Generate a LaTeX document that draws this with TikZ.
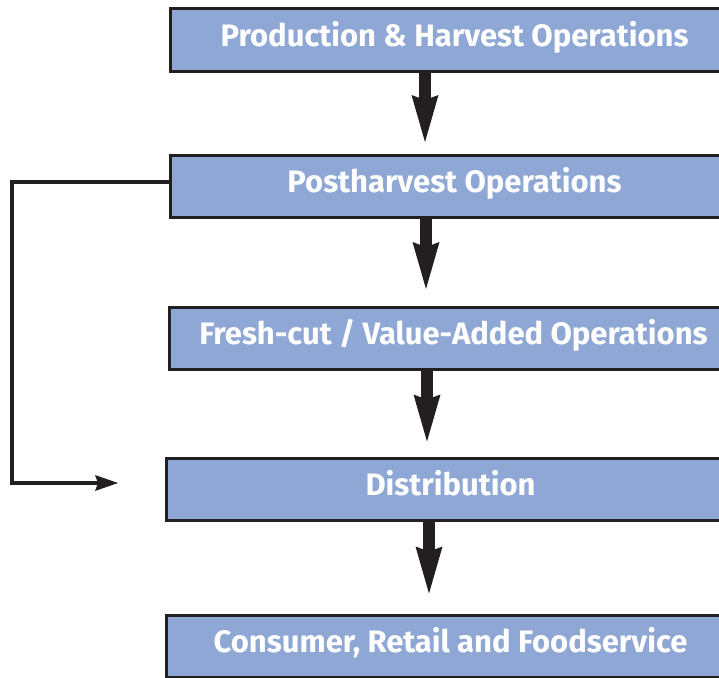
\documentclass[tikz,border=0pt]{standalone}
\usepackage{fontspec}
\setsansfont{Fira Sans}
\usetikzlibrary{arrows.meta}
\definecolor{boxblue}{RGB}{143,167,213}
\definecolor{inkblack}{RGB}{35,31,32}
\tikzset{
  stagebox/.style={draw=inkblack, line width=3pt, fill=boxblue, minimum width=569pt, minimum height=62pt,
    inner sep=0pt, font=\sffamily\bfseries\fontsize{31}{33}\selectfont, text=white,
    text height=21pt, text depth=9pt},
  flowarrow/.style={draw=inkblack, line width=11.5pt, -{Stealth[length=47pt,width=27pt,inset=5pt,line width=0pt]}},
  loopline/.style={draw=inkblack, line width=4.5pt, line join=miter, -{Stealth[length=23pt,width=16pt,inset=3pt,line width=0pt]}}
}
\begin{document}
\begin{tikzpicture}[x=1pt,y=-1pt]
\useasboundingbox (0,0) rectangle (719,677);
\clip (0,0) rectangle (719,677);
\node[stagebox] (b1) at (454.5,40) {Production \& Harvest Operations};
\node[stagebox] (b2) at (454.5,186.5) {Postharvest Operations};
\node[stagebox] (b3) at (453.5,338.5) {Fresh-cut / Value-Added Operations};
\node[stagebox] (b4) at (450.5,489) {Distribution};
\node[stagebox] (b5) at (450.5,646) {Consumer, Retail and Foodservice};
\draw[flowarrow] (b1.south -| 425,0) -- ([yshift=12pt]b2.north -| 425,0);
\draw[flowarrow] (b2.south -| 426,0) -- ([yshift=17pt]b3.north -| 426,0);
\draw[flowarrow] (b3.south -| 427,0) -- ([yshift=15pt]b4.north -| 427,0);
\draw[flowarrow] (b4.south -| 429,0) -- ([yshift=20pt]b5.north -| 429,0);
\coordinate (loopcorner) at (12,182);
\coordinate (loopend) at (118,483);
\draw[loopline] ([yshift=4.5pt]b2.west) -- (loopcorner) |- (loopend);
\end{tikzpicture}
\end{document}
